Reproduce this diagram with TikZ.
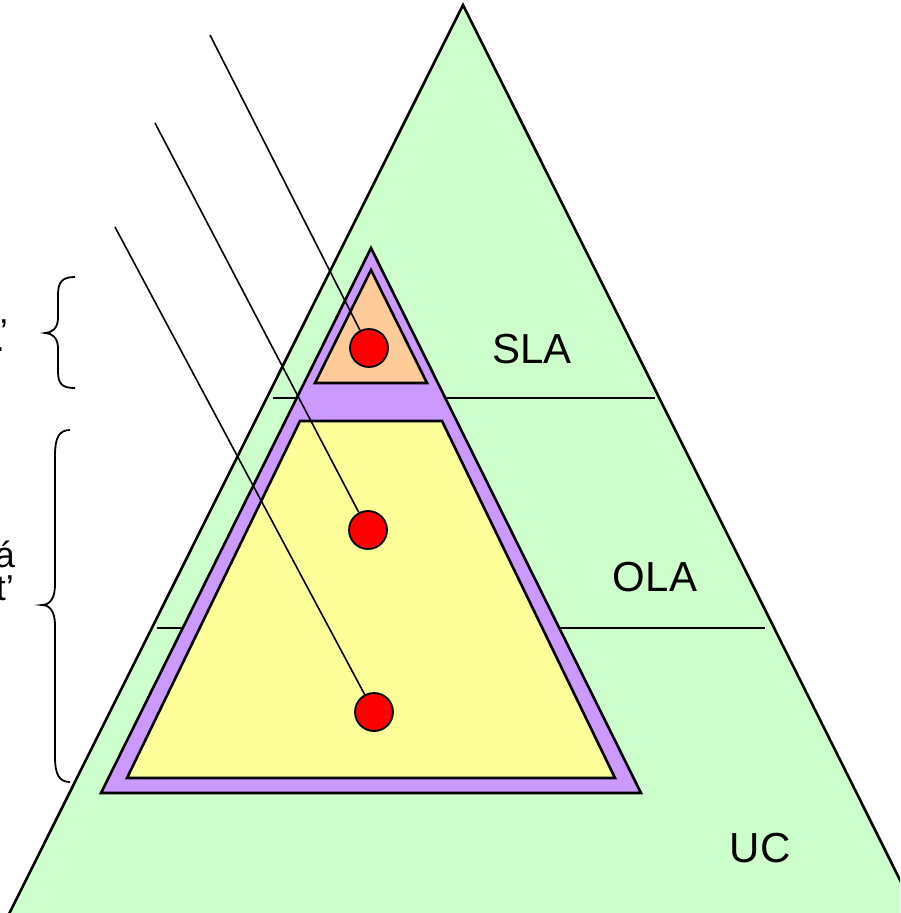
\documentclass[tikz,border=0pt]{standalone}
\usepackage{fontspec}
\setmainfont{Liberation Sans}
\definecolor{pgreen}{HTML}{CCFFCC}
\definecolor{ppurple}{HTML}{CC99FF}
\definecolor{porange}{HTML}{FFCC99}
\definecolor{pyellow}{HTML}{FFFF99}
\definecolor{pred}{HTML}{FF0000}
\begin{document}
\begin{tikzpicture}[x=1pt,y=-1pt,
  outline/.style={draw=black,line width=2.6pt,line join=miter},
  divider/.style={draw=black,line width=1.6pt},
  pointer/.style={draw=black,line width=1.6pt},
  dot/.style={circle,draw=black,line width=1.8pt,fill=pred,minimum size=38pt,inner sep=0pt},
  lbl/.style={font=\fontsize{42}{48}\selectfont,inner sep=0pt},
  side/.style={font=\fontsize{36}{40}\selectfont,inner sep=0pt},
  bracepath/.style={draw=black,line width=1.8pt}]
\useasboundingbox (0,0) rectangle (900,913);
\clip (0,0) rectangle (900,913);
% big green triangle
\path[outline,fill=pgreen] (463,5) -- (-5,942) -- (931,942) -- cycle;
% dividers
\coordinate (d1l) at (273,398); \coordinate (d1r) at (655,398);
\coordinate (d2l) at (157,628); \coordinate (d2r) at (765,628);
\draw[divider] (d1l) -- (d1r);
\draw[divider] (d2l) -- (d2r);
% purple triangle
\path[outline,fill=ppurple] (371,248) -- (101,793) -- (641,793) -- cycle;
% orange triangle
\path[outline,fill=porange] (371,270) -- (315,383) -- (427,383) -- cycle;
% yellow trapezoid
\path[outline,fill=pyellow] (300,421) -- (442,421) -- (615,778) -- (127,778) -- cycle;
% circles
\node[dot] (c1) at (369,348) {};
\node[dot] (c2) at (368,530) {};
\node[dot] (c3) at (374,712) {};
% pointer lines
\coordinate (p1) at (210,35);
\coordinate (p2) at (155,123);
\coordinate (p3) at (115,227);
\draw[pointer] (p1) -- (c1);
\draw[pointer] (p2) -- (c2);
\draw[pointer] (p3) -- (c3);
% labels
\node[lbl] (sla) at (532,349) {SLA};
\node[lbl] (ola) at (655,577) {OLA};
\node[lbl] (uc) at (760,848) {UC};
% left text fragments
\node[side,anchor=base east] (t1) at (8,344) {’};
\node[side,anchor=base east] (t2) at (5,351) {.};
\node[side,anchor=base east] (t3) at (15,567) {á};
\node[side,anchor=base east] (t4) at (14,600) {t’};
% braces
\draw[bracepath] (75,277) .. controls (62,277) and (58,282) .. (58,295)
  -- (58,318) .. controls (58,328) and (52,333) .. (45,333)
  .. controls (52,333) and (58,338) .. (58,348)
  -- (58,371) .. controls (58,384) and (62,388) .. (75,388);
\draw[bracepath] (70,430) .. controls (59,430) and (55,438) .. (55,455)
  -- (55,585) .. controls (55,598) and (50,605) .. (42,605)
  .. controls (50,605) and (55,612) .. (55,625)
  -- (55,757) .. controls (55,774) and (59,782) .. (70,782);
\end{tikzpicture}
\end{document}
